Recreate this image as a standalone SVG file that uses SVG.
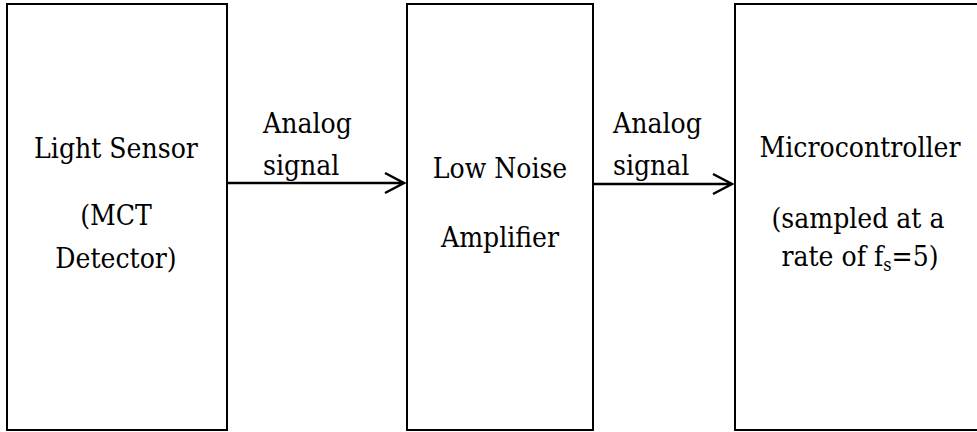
<svg xmlns="http://www.w3.org/2000/svg" width="977" height="432" viewBox="0 0 977 432">
<defs>
<style>
.box{fill:#fff;stroke:#000;stroke-width:2}
text{font-family:'DejaVu Serif Condensed','DejaVu Serif',serif;font-stretch:condensed;font-size:28px;fill:#000}
.m{text-anchor:middle}
.conn{stroke:#000;stroke-width:2.5;fill:none}
</style>
</defs>
<rect width="977" height="432" fill="#fff"/>
<g id="light-sensor">
<rect class="box" x="7" y="4" width="220" height="426"/>
<text class="m" x="116" y="158">Light Sensor</text>
<text class="m" x="116" y="225">(MCT</text>
<text class="m" x="116" y="268">Detector)</text>
</g>
<g id="lna">
<rect class="box" x="407" y="4" width="186" height="426"/>
<text class="m" x="500" y="178">Low Noise</text>
<text class="m" x="500" y="247">Amplifier</text>
</g>
<g id="mcu">
<rect class="box" x="735" y="4" width="250" height="426"/>
<text class="m" x="860" y="157">Microcontroller</text>
<text class="m" x="858" y="228">(sampled at a</text>
<text class="m" x="860" y="266">rate of f<tspan font-size="18" dy="5">s</tspan><tspan dy="-5">=5)</tspan></text>
</g>
<g id="connectors">
<path class="conn" d="M227 183H403M385 173L404 183L385 193"/>
<path class="conn" d="M593 184H731M713 174L732 184L713 194"/>
<text x="263" y="133">Analog</text>
<text x="263" y="175">signal</text>
<text x="613" y="133">Analog</text>
<text x="613" y="175">signal</text>
</g>
</svg>
